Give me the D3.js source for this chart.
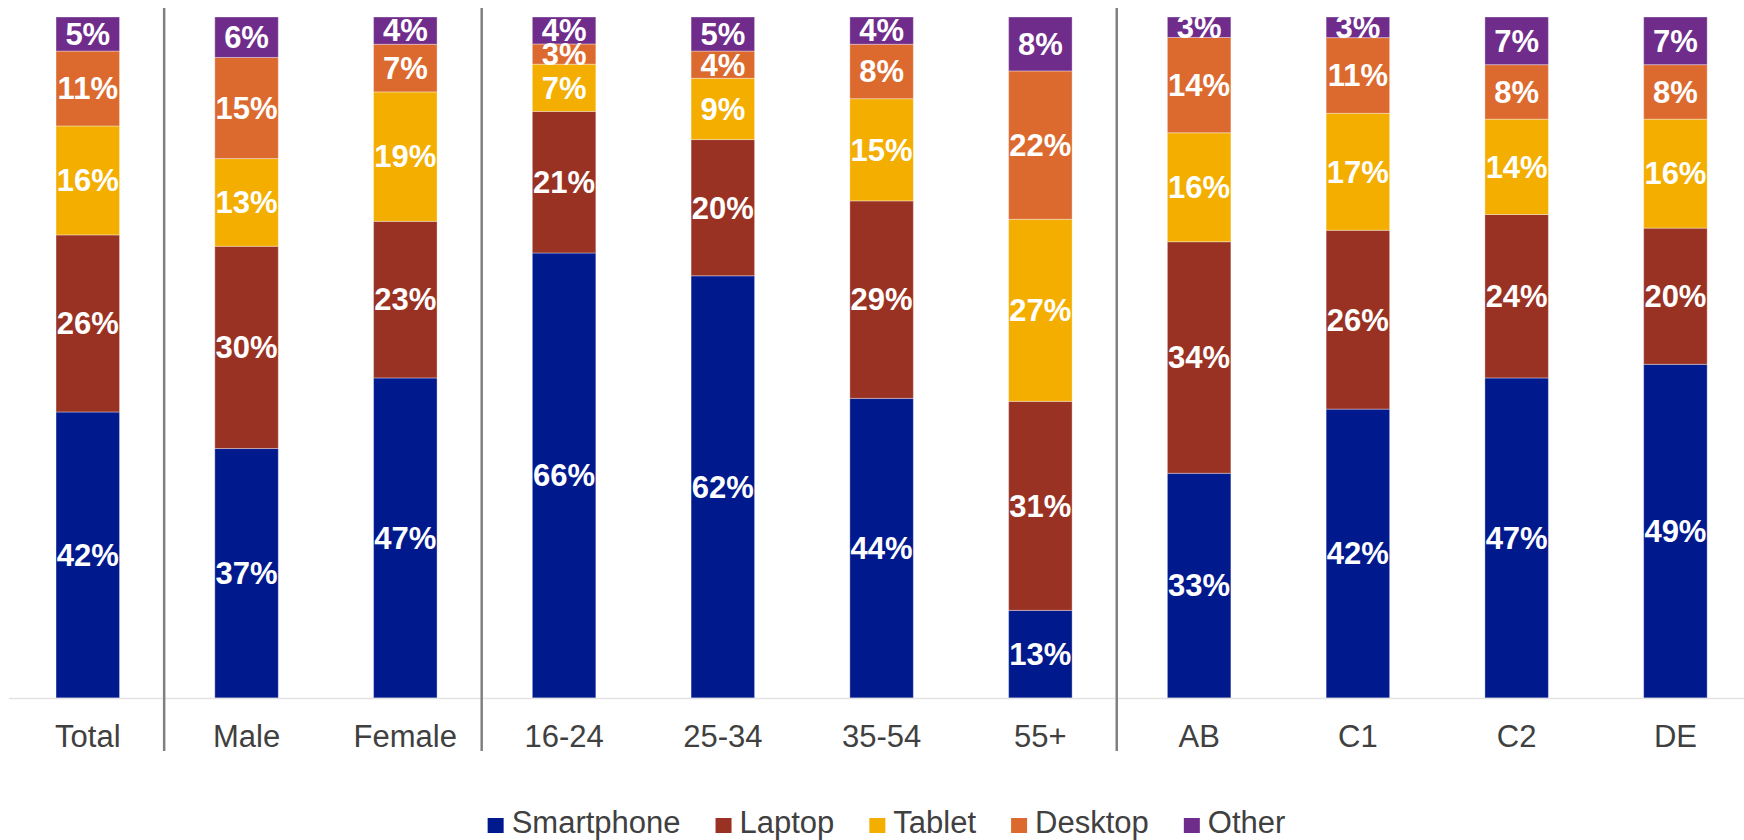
<!DOCTYPE html>
<html>
<head>
<meta charset="utf-8">
<script src="https://cdn.jsdelivr.net/npm/d3@7/dist/d3.min.js"></script>
<style>
  html, body { margin: 0; padding: 0; background: #ffffff; }
  svg { display: block; font-family: "Liberation Sans", Arial, sans-serif; }
</style>
</head>
<body>
<svg id="chart" width="1744" height="840"></svg>
<script>
// Device used, by demographic group (percent of respondents)
const categories = ["Total", "Male", "Female", "16-24", "25-34", "35-54", "55+", "AB", "C1", "C2", "DE"];
const seriesNames = ["Smartphone", "Laptop", "Tablet", "Desktop", "Other"];
const smartphone = [42, 37, 47, 66, 62, 44, 13, 33, 42, 47, 49];
const laptop     = [26, 30, 23, 21, 20, 29, 31, 34, 26, 24, 20];
const tablet     = [16, 13, 19,  7,  9, 15, 27, 16, 17, 14, 16];
const desktop    = [11, 15,  7,  3,  4,  8, 22, 14, 11,  8,  8];
const other      = [ 5,  6,  4,  4,  5,  4,  8,  3,  3,  7,  7];
// Group dividers sit after these categories
const groupEnds = ["Total", "Female", "55+"];

const colors = ["#001a8e", "#9a3224", "#f3ae00", "#dc6a2f", "#6f2c8b"];

const rows = categories.map((c, i) => ({
  category: c,
  Smartphone: smartphone[i],
  Laptop: laptop[i],
  Tablet: tablet[i],
  Desktop: desktop[i],
  Other: other[i]
}));

const svg = d3.select("#chart");
const baseY = 698, topY = 17;

const x = d3.scaleBand()
  .domain(categories)
  .range([8.4, 1754.8])
  .paddingInner(0.6)
  .paddingOuter(0.3);

const y = d3.scaleLinear().domain([0, 1]).range([baseY, topY]);

const color = d3.scaleOrdinal().domain(seriesNames).range(colors);

const stacked = d3.stack()
  .keys(seriesNames)
  .offset(d3.stackOffsetExpand)(rows);

// Stacked segments
const layers = svg.append("g").selectAll("g")
  .data(stacked)
  .join("g")
  .attr("fill", d => color(d.key));

layers.selectAll("rect")
  .data(d => d)
  .join("rect")
  .attr("x", d => x(d.data.category))
  .attr("width", x.bandwidth())
  .attr("y", d => y(d[1]))
  .attr("height", d => y(d[0]) - y(d[1]))
  .attr("stroke", "#ffffff")
  .attr("stroke-opacity", 0.35)
  .attr("stroke-width", 1);

// Value labels
const labels = svg.append("g");
stacked.forEach(layer => {
  labels.selectAll(null)
    .data(layer)
    .join("text")
    .attr("x", d => x(d.data.category) + x.bandwidth() / 2)
    .attr("y", d => (y(d[0]) + y(d[1])) / 2)
    .attr("dy", "0.35em")
    .attr("text-anchor", "middle")
    .attr("fill", "#ffffff")
    .attr("font-weight", "bold")
    .attr("font-size", 31)
    .text(d => d.data[layer.key] + "%");
});

// Category axis
const axis = svg.append("g")
  .attr("transform", `translate(0,${baseY})`)
  .call(d3.axisBottom(x).tickSize(0).tickPadding(27));
axis.select(".domain").attr("stroke", "#e3e3e3").attr("stroke-width", 1.6);
axis.selectAll("text")
  .attr("font-size", 31)
  .attr("font-family", "'Liberation Sans', Arial, sans-serif")
  .attr("fill", "#404040");

// Group dividers
const step = x.step();
svg.append("g").selectAll("line")
  .data(groupEnds)
  .join("line")
  .attr("x1", d => x(d) + x.bandwidth() + (step - x.bandwidth()) / 2 - 3)
  .attr("x2", d => x(d) + x.bandwidth() + (step - x.bandwidth()) / 2 - 3)
  .attr("y1", 8)
  .attr("y2", 751)
  .attr("stroke", "#808080")
  .attr("stroke-width", 2.5);

// Legend
const legend = svg.append("g");
const items = legend.selectAll("g")
  .data(seriesNames)
  .join("g");
items.append("rect")
  .attr("width", 16)
  .attr("height", 15)
  .attr("y", 818)
  .attr("fill", d => color(d));
items.append("text")
  .attr("x", 24)
  .attr("y", 833)
  .attr("font-size", 31)
  .attr("fill", "#404040")
  .text(d => d);

let offset = 0;
items.each(function () {
  const w = 24 + this.querySelector("text").getComputedTextLength();
  d3.select(this).attr("data-w", w);
});
const widths = items.nodes().map(n => +n.getAttribute("data-w"));
const gap = 35;
const total = d3.sum(widths) + gap * (widths.length - 1);
let cx = 886.5 - total / 2;
items.each(function (d, i) {
  d3.select(this).attr("transform", `translate(${cx},0)`);
  cx += widths[i] + gap;
});
</script>
</body>
</html>
